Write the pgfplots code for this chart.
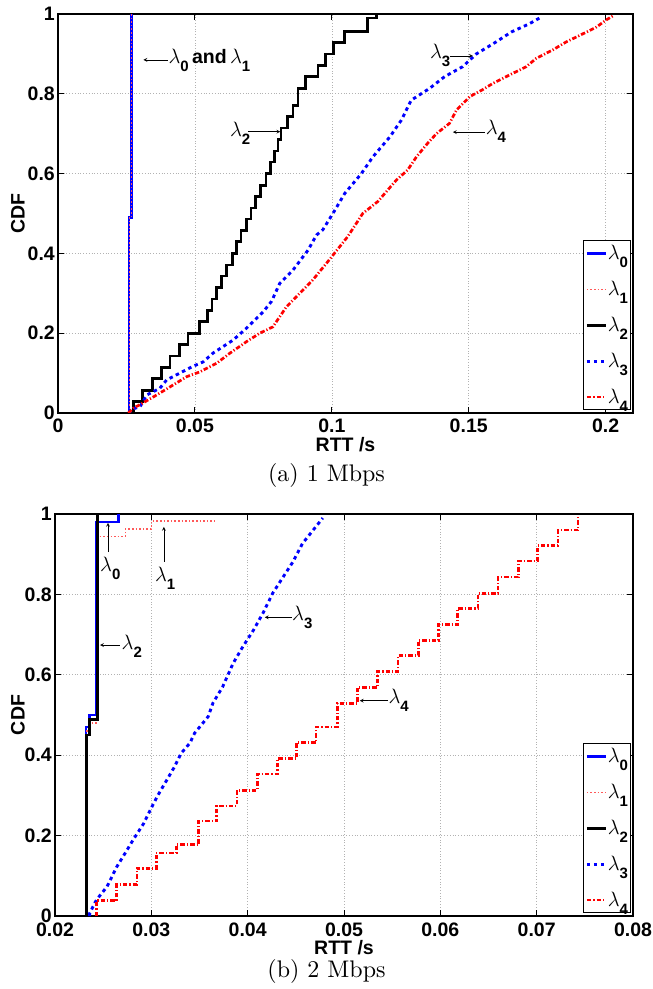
\documentclass[border=0pt]{standalone}
\usepackage{fontspec}
\usepackage{pgfplots}
\pgfplotsset{compat=1.18}
\newfontfamily\hv{Liberation Sans}
\newcommand\lam[1]{{\fontsize{20}{20}\selectfont$\lambda$\raisebox{-8pt}{\hv\bfseries\fontsize{15}{15}\selectfont #1}}}
\newcommand\bsf{\hv\bfseries\fontsize{19.5}{19.5}\selectfont}
\pgfplotsset{
  myaxis/.style={
    scale only axis,
    anchor=south west,
    axis line style={line width=1.3pt},
    every tick/.style={black, line width=0.9pt},
    major tick length=6pt,
    grid=major,
    major grid style={dash pattern=on 0.8pt off 2pt, gray!60, line width=0.6pt},
    ymin=0, ymax=1,
    ytick={0,0.2,0.4,0.6,0.8,1},
    scaled x ticks=false, scaled y ticks=false,
    /pgf/number format/assume math mode=true,
    /pgf/number format/fixed,
    /pgf/number format/precision=3,
    ticklabel style={font=\bsf},
    xticklabel style={anchor=base, yshift=-20pt},
    yticklabel style={anchor=east, inner sep=0pt, xshift=-3pt},
    label style={font=\bsf},
    xlabel={RTT /s}, ylabel={CDF},
    legend cell align=left,
    legend style={at={(1,0)}, anchor=south east, xshift=-2pt, yshift=3pt,
      draw=black, line width=1pt, inner xsep=2pt, inner ysep=4pt, row sep=19pt,
      nodes={inner sep=0.5pt}},
    legend image code/.code={\draw[#1] (0pt,0pt) -- (19pt,0pt);},
  },
  l0/.style={blue, line width=2.5pt, solid},
  l1/.style={red!65, line width=1.6pt, dotted},
  l2/.style={black, line width=2.7pt, solid},
  l3/.style={blue, line width=2.9pt, dash pattern=on 3.5pt off 3.5pt},
  l4/.style={red, line width=2.7pt, dash pattern=on 4.5pt off 2pt on 1.2pt off 2pt},
}
\begin{document}
\begin{tikzpicture}
\path[use as bounding box] (0,0) rectangle (653pt,989pt);
% ---------------- (a) 1 Mbps ----------------
\begin{axis}[myaxis, at={(58pt,576pt)}, width=575pt, height=399pt,
  xmin=0, xmax=0.21, xtick={0,0.05,0.1,0.15,0.2},
  xlabel style={at={(axis description cs:0.5,-0.0802)}, anchor=center},
  ylabel style={at={(axis description cs:-0.0696,0.5)}, anchor=center}]
\addplot[l0] coordinates {(0.0260,0) (0.0260,0.49) (0.0268,0.49) (0.0268,1.0)};
\addlegendentry{\lam{0}}
\addplot[l1, line width=1pt] coordinates {(0.0260,0) (0.0260,0.49) (0.0268,0.49) (0.0268,1.0)};
\addlegendentry{\lam{1}}
\addplot[l2, const plot] coordinates {
(0.0266,0) (0.0275,0.029) (0.0309,0.057) (0.0346,0.086) (0.0378,0.114)
(0.0409,0.143) (0.0445,0.171) (0.0475,0.2) (0.0518,0.229) (0.0547,0.257)
(0.0562,0.286) (0.0578,0.314) (0.0598,0.343) (0.0616,0.371) (0.0638,0.4)
(0.0652,0.429) (0.0668,0.457) (0.0688,0.486) (0.0705,0.514) (0.0722,0.543)
(0.0740,0.571) (0.0760,0.6) (0.0775,0.629) (0.0790,0.657) (0.0803,0.686)
(0.0814,0.714) (0.0839,0.743) (0.0858,0.771) (0.0876,0.814) (0.0905,0.843)
(0.0950,0.871) (0.0978,0.9) (0.1005,0.929) (0.1047,0.957) (0.1130,0.99)
(0.1163,1.0)};
\addlegendentry{\lam{2}}
\addplot[l3] coordinates {
(0.0263,0.0) (0.0263,0.008) (0.030,0.016) (0.0324,0.045) (0.0372,0.062)
(0.0397,0.083) (0.0445,0.10) (0.049,0.116) (0.053,0.128) (0.0566,0.15)
(0.064,0.183) (0.0689,0.213) (0.075,0.254) (0.078,0.28) (0.081,0.325)
(0.0858,0.358) (0.0913,0.408) (0.0944,0.446) (0.0967,0.459) (0.1004,0.50)
(0.1047,0.55) (0.1108,0.60) (0.115,0.642) (0.1212,0.692) (0.1254,0.734)
(0.129,0.784) (0.1358,0.814) (0.1412,0.843) (0.1478,0.868) (0.1528,0.90)
(0.160,0.93) (0.1656,0.955) (0.172,0.975) (0.1759,0.99)};
\addlegendentry{\lam{3}}
\addplot[l4] coordinates {
(0.0257,0.0) (0.0275,0.012) (0.031,0.025) (0.036,0.045) (0.042,0.07)
(0.047,0.091) (0.0518,0.103) (0.058,0.125) (0.0628,0.15) (0.0689,0.179)
(0.0737,0.20) (0.0785,0.216) (0.0834,0.266) (0.0883,0.30) (0.093,0.333)
(0.0985,0.379) (0.1058,0.442) (0.1113,0.50) (0.1168,0.53) (0.1236,0.584)
(0.1277,0.609) (0.1309,0.642) (0.135,0.676) (0.1382,0.70) (0.143,0.726)
(0.1455,0.759) (0.1504,0.793) (0.155,0.81) (0.1588,0.826) (0.1637,0.843)
(0.171,0.868) (0.1747,0.889) (0.1807,0.91) (0.1856,0.93) (0.1916,0.95)
(0.1966,0.967) (0.2002,0.985) (0.2026,0.995)};
\addlegendentry{\lam{4}}
% annotations
\draw[-stealth, line width=0.7pt] (axis cs:0.0401,0.885) -- (axis cs:0.0312,0.885);
\node[anchor=base west, inner sep=0pt] at (axis cs:0.0403,0.877) {\lam{0} {\bsf and} \lam{1}};
\node[anchor=base west, inner sep=0pt] at (axis cs:0.0628,0.6925) {\lam{2}};
\draw[-stealth, line width=0.7pt] (axis cs:0.0693,0.705) -- (axis cs:0.0812,0.705);
\node[anchor=base west, inner sep=0pt] at (axis cs:0.1358,0.889) {\lam{3}};
\draw[-stealth, line width=0.7pt] (axis cs:0.1431,0.895) -- (axis cs:0.1515,0.895);
\draw[-stealth, line width=0.7pt] (axis cs:0.1558,0.704) -- (axis cs:0.1442,0.704);
\node[anchor=base west, inner sep=0pt] at (axis cs:0.1562,0.699) {\lam{4}};
\end{axis}
\node[anchor=base, scale=2.4, inner sep=0pt] at (326.5pt,507pt) {\fontsize{10}{12}\selectfont (a) 1 Mbps};
% ---------------- (b) 2 Mbps ----------------
\begin{axis}[myaxis, at={(55pt,73pt)}, width=578pt, height=402pt,
  xmin=0.02, xmax=0.08, xtick={0.02,0.03,0.04,0.05,0.06,0.07,0.08},
  xlabel style={at={(axis description cs:0.5,-0.0784)}, anchor=center},
  ylabel style={at={(axis description cs:-0.064,0.5)}, anchor=center}]
\addplot[l0] coordinates {(0.0232,0) (0.0232,0.47) (0.0236,0.47) (0.0236,0.50)
 (0.0243,0.50) (0.0243,0.98) (0.0266,0.98) (0.0266,1.0)};
\addlegendentry{\lam{0}}
\addplot[l1] coordinates {(0.0233,0) (0.0233,0.46) (0.0237,0.46) (0.0237,0.48)
 (0.0243,0.48) (0.0243,0.944) (0.0273,0.944) (0.0273,0.962) (0.0300,0.962)
 (0.0300,0.982) (0.0366,0.982)};
\addlegendentry{\lam{1}}
\addplot[l2] coordinates {(0.0233,0) (0.0233,0.45) (0.0236,0.45) (0.0236,0.488)
 (0.02439,0.488) (0.02439,1.0)};
\addlegendentry{\lam{2}}
\addplot[l3] coordinates {
(0.0236,0.0) (0.0236,0.007) (0.0243,0.04) (0.0254,0.073) (0.0264,0.122)
(0.0273,0.157) (0.0281,0.189) (0.0292,0.23) (0.0299,0.264) (0.0306,0.297)
(0.0316,0.338) (0.0324,0.371) (0.0331,0.405) (0.034,0.43) (0.0345,0.455)
(0.0359,0.496) (0.0364,0.53) (0.0374,0.57) (0.0385,0.629) (0.0395,0.67)
(0.0406,0.711) (0.0416,0.754) (0.0426,0.803) (0.0437,0.844) (0.0447,0.881)
(0.0457,0.927) (0.0468,0.96) (0.0478,0.99)};
\addlegendentry{\lam{3}}
\addplot[l4, const plot] coordinates {
(0.0243,0.0) (0.0243,0.038) (0.0264,0.079) (0.0285,0.119) (0.0305,0.157)
(0.0326,0.177) (0.0349,0.236) (0.0368,0.274) (0.0389,0.313) (0.0410,0.353)
(0.0431,0.392) (0.0451,0.431) (0.0471,0.47) (0.0493,0.529) (0.0514,0.569)
(0.0535,0.608) (0.0556,0.648) (0.0577,0.686) (0.0598,0.725) (0.0618,0.765)
(0.0639,0.803) (0.0660,0.843) (0.0681,0.883) (0.0701,0.921) (0.0722,0.96)
(0.0743,0.993)};
\addlegendentry{\lam{4}}
% annotations
\draw[-stealth, line width=0.7pt] (axis cs:0.0255,0.905) -- (axis cs:0.0255,0.978);
\node[anchor=base west, inner sep=0pt] at (axis cs:0.02467,0.856) {\lam{0}};
\draw[-stealth, line width=0.7pt] (axis cs:0.0313,0.881) -- (axis cs:0.0313,0.968);
\node[anchor=base west, inner sep=0pt] at (axis cs:0.03037,0.832) {\lam{1}};
\draw[-stealth, line width=0.7pt] (axis cs:0.02674,0.674) -- (axis cs:0.02467,0.674);
\node[anchor=base west, inner sep=0pt] at (axis cs:0.0269,0.663) {\lam{2}};
\draw[-stealth, line width=0.7pt] (axis cs:0.04455,0.743) -- (axis cs:0.04178,0.743);
\node[anchor=base west, inner sep=0pt] at (axis cs:0.04460,0.736) {\lam{3}};
\draw[-stealth, line width=0.7pt] (axis cs:0.05457,0.5356) -- (axis cs:0.05164,0.5356);
\node[anchor=base west, inner sep=0pt] at (axis cs:0.05460,0.529) {\lam{4}};
\end{axis}
\node[anchor=base, scale=2.4, inner sep=0pt] at (326.5pt,11pt) {\fontsize{10}{12}\selectfont (b) 2 Mbps};
\end{tikzpicture}
\end{document}
